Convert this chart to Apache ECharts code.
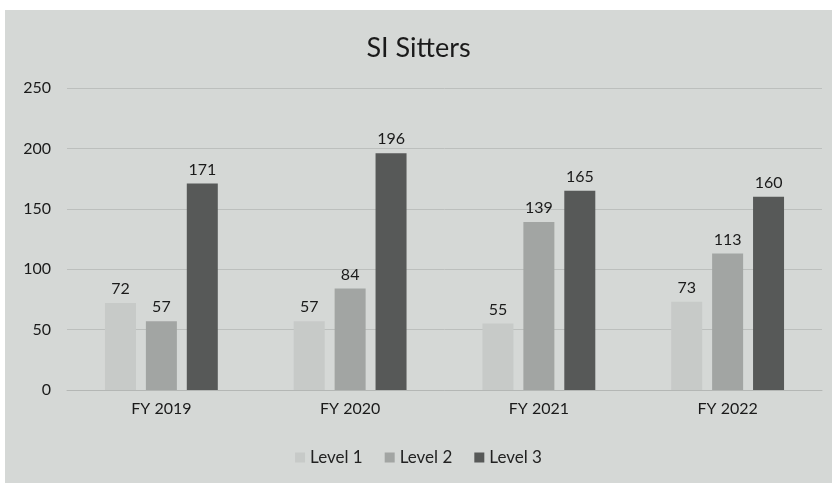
<!DOCTYPE html>
<html>
<head>
<meta charset="utf-8">
<script src="https://cdn.jsdelivr.net/npm/echarts@6/dist/echarts.min.js"></script>
<style>
  html, body { margin: 0; padding: 0; background: #ffffff; }
  #chart { position: absolute; left: 5px; top: 10px; width: 827px; height: 473px; background: #d5d8d6; }
</style>
</head>
<body>
<div id="chart"></div>
<script>
  // data
  const categories = ['FY 2019', 'FY 2020', 'FY 2021', 'FY 2022'];
  const level1 = [72, 57, 55, 73];
  const level2 = [57, 84, 139, 113];
  const level3 = [171, 196, 165, 160];
  const seriesNames = ['Level 1', 'Level 2', 'Level 3'];
  const seriesColors = ['#c7cac8', '#a2a5a3', '#575958'];

  const font = 'Lato, "Open Sans", sans-serif';
  const chart = echarts.init(document.getElementById('chart'));

  const makeSeries = (name, data, color) => ({
    type: 'bar',
    name: name,
    data: data,
    barWidth: 31,
    barGap: '32%',
    itemStyle: { color: color },
    label: {
      show: true,
      position: 'top',
      distance: 6,
      color: '#1a1a1a',
      fontSize: 16,
      fontFamily: font
    }
  });

  chart.setOption({
    animation: false,
    title: {
      text: 'SI Sitters',
      left: 'center',
      top: 20,
      textStyle: { fontSize: 27, fontWeight: 'normal', color: '#1a1a1a', fontFamily: font }
    },
    legend: {
      bottom: 12,
      left: 'center',
      itemWidth: 10,
      itemHeight: 10,
      itemGap: 22,
      icon: 'rect',
      textStyle: { fontSize: 17, color: '#222', fontFamily: font },
      data: seriesNames
    },
    grid: { left: 62, right: 10, top: 78, bottom: 93 },
    xAxis: {
      type: 'category',
      data: categories,
      axisTick: { show: false },
      axisLine: { lineStyle: { color: '#b4b7b5' } },
      axisLabel: { color: '#1a1a1a', fontSize: 16, margin: 11, fontFamily: font }
    },
    yAxis: {
      type: 'value',
      min: 0,
      max: 250,
      interval: 50,
      axisLabel: { color: '#1a1a1a', fontSize: 16, margin: 16, fontFamily: font },
      splitLine: { lineStyle: { color: '#bcbfbd' } }
    },
    series: [
      makeSeries(seriesNames[0], level1, seriesColors[0]),
      makeSeries(seriesNames[1], level2, seriesColors[1]),
      makeSeries(seriesNames[2], level3, seriesColors[2])
    ]
  });
</script>
</body>
</html>
